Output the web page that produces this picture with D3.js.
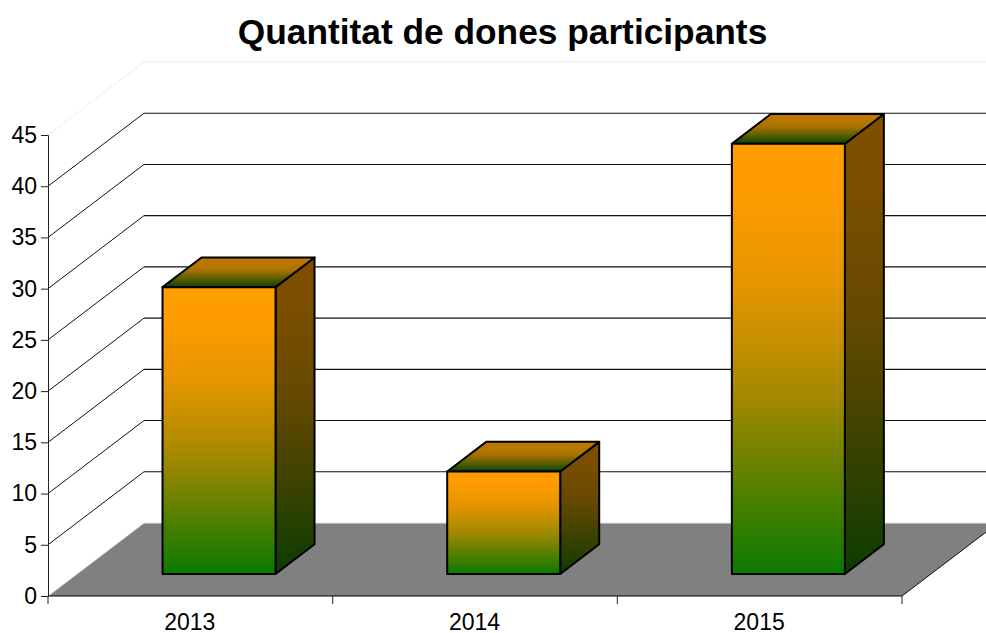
<!DOCTYPE html>
<html>
<head>
<meta charset="utf-8">
<title>Quantitat de dones participants</title>
<script src="https://cdn.jsdelivr.net/npm/d3@7"></script>
<style>
  html, body { margin: 0; padding: 0; background: #fff; }
  svg { display: block; font-family: "Liberation Sans", Arial, sans-serif; }
</style>
</head>
<body>
<div id="chart"></div>
<script>
// ── Data ─────────────────────────────────────────────
const chartTitle = 'Quantitat de dones participants';
const categories = ['2013', '2014', '2015'];
const participants = [28, 10, 42];
const yTicks = [0, 5, 10, 15, 20, 25, 30, 35, 40, 45];

// ── Layout ───────────────────────────────────────────
const width = 986, height = 633;
const plot = { left: 48, right: 902, top: 135, bottom: 596 };
const depth = { x: 96, y: -73 };       // wall / floor offset
const barDepth = { x: 39, y: -29.7 };  // box offset
const barShift = { x: 28.7, y: -22 };  // box sits in the middle of the floor

const svg = d3.select('#chart').append('svg')
  .attr('width', width).attr('height', height)
  .attr('viewBox', `0 0 ${width} ${height}`);

const x = d3.scaleBand().domain(categories)
  .range([plot.left, plot.right])
  .paddingInner(0.603).paddingOuter(0.3015);

const y = d3.scaleLinear().domain([0, 45])
  .range([plot.bottom, plot.top]);

const line = d3.line();

// ── Gradients ────────────────────────────────────────
const defs = svg.append('defs');
function addGradient(id, stops) {
  const g = defs.append('linearGradient').attr('id', id)
    .attr('x1', 0).attr('y1', 0).attr('x2', 0).attr('y2', 1);
  stops.forEach(([offset, color]) => {
    g.append('stop').attr('offset', offset).attr('stop-color', color);
  });
}
addGradient('front', [[0, '#ff9c00'], [0.1, '#ff9c00'], [0.3, '#ea9600'], [0.45, '#c89000'],
  [0.6, '#a08800'], [0.8, '#558000'], [1, '#0a7a00']]);
addGradient('side', [[0, '#804e00'], [0.15, '#7c4e00'], [0.45, '#644900'],
  [0.7, '#3f4200'], [1, '#0a3d00']]);
addGradient('lid', [[0, '#c27a00'], [0.4, '#ae7400'], [0.7, '#5f6000'], [1, '#0a4500']]);

// ── Title ────────────────────────────────────────────
svg.append('text')
  .attr('x', 502.5).attr('y', 44)
  .attr('text-anchor', 'middle')
  .attr('font-size', 35.3).attr('font-weight', 'bold')
  .attr('fill', '#000')
  .text(chartTitle);

// ── Walls ────────────────────────────────────────────
const isTop = (d) => d === 45;

svg.append('g').selectAll('line.back')
  .data(yTicks.filter((d) => d > 0))
  .join('line')
  .attr('class', 'back')
  .attr('x1', plot.left + depth.x).attr('x2', plot.right + depth.x)
  .attr('y1', (d) => y(d) + depth.y).attr('y2', (d) => y(d) + depth.y)
  .attr('stroke', (d) => (isTop(d) ? '#eaeaea' : '#111'))
  .attr('stroke-width', 1.1);

svg.append('g').selectAll('line.wall')
  .data(yTicks.filter((d) => d > 0))
  .join('line')
  .attr('class', 'wall')
  .attr('x1', plot.left).attr('y1', (d) => y(d))
  .attr('x2', plot.left + depth.x).attr('y2', (d) => y(d) + depth.y)
  .attr('stroke', (d) => (isTop(d) ? '#e4e4e4' : '#111'))
  .attr('stroke-dasharray', (d) => (isTop(d) ? '2,1' : null))
  .attr('stroke-width', 1);

// ── Floor ────────────────────────────────────────────
const floorPts = [
  [plot.left, y(0)],
  [plot.left + depth.x, y(0) + depth.y],
  [plot.right + depth.x, y(0) + depth.y],
  [plot.right, y(0)],
];
svg.append('path')
  .attr('d', line(floorPts) + 'Z')
  .attr('fill', '#808080');
svg.append('path')
  .attr('d', line(floorPts.slice(0, 3)))
  .attr('fill', 'none').attr('stroke', '#e8e8e8').attr('stroke-width', 1);
svg.append('path')
  .attr('d', line(floorPts.slice(2)))
  .attr('fill', 'none').attr('stroke', '#111').attr('stroke-width', 1);

// ── Bars ─────────────────────────────────────────────
const barData = categories.map((c, i) => ({ category: c, value: participants[i] }));

const bars = svg.append('g').selectAll('g.bar')
  .data(barData)
  .join('g')
  .attr('class', 'bar')
  .attr('transform', `translate(${barShift.x},${barShift.y})`)
  .attr('stroke', '#000').attr('stroke-width', 2)
  .attr('stroke-linejoin', 'round');

bars.append('path')  // side
  .attr('fill', 'url(#side)')
  .attr('d', (d) => {
    const r = x(d.category) + x.bandwidth();
    return line([
      [r, y(d.value)],
      [r + barDepth.x, y(d.value) + barDepth.y],
      [r + barDepth.x, y(0) + barDepth.y],
      [r, y(0)],
    ]) + 'Z';
  });

bars.append('path')  // lid
  .attr('fill', 'url(#lid)')
  .attr('d', (d) => {
    const l = x(d.category), r = l + x.bandwidth(), t = y(d.value);
    return line([
      [l, t],
      [l + barDepth.x, t + barDepth.y],
      [r + barDepth.x, t + barDepth.y],
      [r, t],
    ]) + 'Z';
  });

bars.append('rect')  // front
  .attr('fill', 'url(#front)')
  .attr('x', (d) => x(d.category))
  .attr('y', (d) => y(d.value))
  .attr('width', x.bandwidth())
  .attr('height', (d) => y(0) - y(d.value));

// ── Axes ─────────────────────────────────────────────
const yAxis = svg.append('g')
  .attr('transform', `translate(${plot.left},0)`)
  .call(d3.axisLeft(y).tickValues(yTicks).tickSize(7).tickPadding(4));
yAxis.selectAll('text')
  .attr('font-size', 23).attr('font-family', 'inherit').attr('fill', '#000');
yAxis.selectAll('line, path').attr('stroke', '#222');

const step = x.step();
const xBounds = d3.range(categories.length + 1)
  .map((i) => plot.left + i * step);

const xAxis = svg.append('g');
xAxis.append('line')
  .attr('x1', plot.left).attr('x2', plot.right)
  .attr('y1', y(0)).attr('y2', y(0))
  .attr('stroke', '#000').attr('stroke-width', 1.2);
xAxis.selectAll('line.tick')
  .data(xBounds)
  .join('line')
  .attr('class', 'tick')
  .attr('x1', (d) => d).attr('x2', (d) => d)
  .attr('y1', y(0)).attr('y2', y(0) + 8)
  .attr('stroke', '#222');
xAxis.selectAll('text')
  .data(categories)
  .join('text')
  .attr('x', (d) => x(d) + x.bandwidth() / 2 - 0.5)
  .attr('y', y(0) + 34)
  .attr('text-anchor', 'middle')
  .attr('font-size', 23).attr('fill', '#000')
  .text((d) => d);
</script>
</body>
</html>
